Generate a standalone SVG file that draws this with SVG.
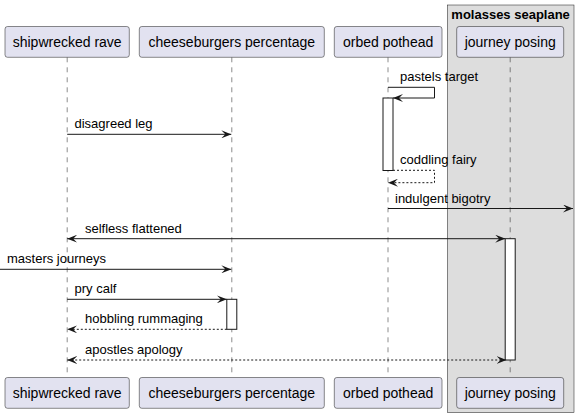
<svg xmlns="http://www.w3.org/2000/svg" width="578" height="418" viewBox="0 0 578 418">
<style>
.pbox{fill:#E2E2F0;stroke:#181818;stroke-width:0.5;}
.ptxt{font-family:"Liberation Sans",Arial,sans-serif;font-size:14px;fill:#000;text-anchor:middle;}
.life{stroke:#181818;stroke-width:0.5;stroke-dasharray:5,5;fill:none;}
.msg{stroke:#181818;stroke-width:1;fill:none;}
.dash{stroke-dasharray:2,2;}
.lbl{font-family:"Liberation Sans",Arial,sans-serif;font-size:13px;fill:#000;}
.act{fill:#FFFFFF;stroke:#181818;stroke-width:1;}
.grp{fill:#DDDDDD;stroke:#181818;stroke-width:0.5;}
.gtxt{font-family:"Liberation Sans",Arial,sans-serif;font-size:13px;font-weight:bold;fill:#000;text-anchor:middle;}
</style>
<defs>
<marker id="ah" markerWidth="10" markerHeight="8" refX="10" refY="4" orient="auto-start-reverse" markerUnits="userSpaceOnUse">
<polygon points="0,0 10,4 0,8 4,4" fill="#181818"/>
</marker>
</defs>
<g id="group-molasses-seaplane">
<rect class="grp" x="447.3" y="5" width="126.7" height="407.7"/>
<text class="gtxt" x="510.6" y="18.5">molasses seaplane</text>
</g>
<g id="lifelines">
<line class="life" x1="67.2" y1="57.3" x2="67.2" y2="377.3"/>
<line class="life" x1="231.8" y1="57.3" x2="231.8" y2="377.3"/>
<line class="life" x1="388" y1="57.3" x2="388" y2="377.3"/>
<line class="life" x1="510.2" y1="57.3" x2="510.2" y2="377.3"/>
</g>
<g id="p-shipwrecked-rave">
<rect class="pbox" x="5" y="26.5" width="124.3" height="30.8" rx="2.5"/>
<text class="ptxt" x="67.2" y="47.3">shipwrecked rave</text>
<rect class="pbox" x="5" y="377.5" width="124.3" height="30.8" rx="2.5"/>
<text class="ptxt" x="67.2" y="398.2">shipwrecked rave</text>
</g>
<g id="p-cheeseburgers-percentage">
<rect class="pbox" x="139.3" y="26.5" width="185" height="30.8" rx="2.5"/>
<text class="ptxt" x="231.8" y="47.3">cheeseburgers percentage</text>
<rect class="pbox" x="139.3" y="377.5" width="185" height="30.8" rx="2.5"/>
<text class="ptxt" x="231.8" y="398.2">cheeseburgers percentage</text>
</g>
<g id="p-orbed-pothead">
<rect class="pbox" x="334.3" y="26.5" width="107.7" height="30.8" rx="2.5"/>
<text class="ptxt" x="388.1" y="47.3">orbed pothead</text>
<rect class="pbox" x="334.3" y="377.5" width="107.7" height="30.8" rx="2.5"/>
<text class="ptxt" x="388.1" y="398.2">orbed pothead</text>
</g>
<g id="p-journey-posing">
<rect class="pbox" x="456.7" y="26.5" width="107" height="30.8" rx="2.5"/>
<text class="ptxt" x="510.2" y="47.3">journey posing</text>
<rect class="pbox" x="456.7" y="377.5" width="107" height="30.8" rx="2.5"/>
<text class="ptxt" x="510.2" y="398.2">journey posing</text>
</g>
<g id="activations">
<rect class="act" x="383" y="98" width="10" height="72.5"/>
<rect class="act" x="505.2" y="238.7" width="10" height="121.3"/>
<rect class="act" x="226.8" y="299.3" width="10" height="30"/>
</g>
<g id="connectors">
<polyline class="msg" points="388,87.3 434.5,87.3 434.5,98 393,98" marker-end="url(#ah)"/>
<text class="lbl" x="400" y="81">pastels target</text>
<line class="msg" x1="67.2" y1="134.3" x2="231.3" y2="134.3" marker-end="url(#ah)"/>
<text class="lbl" x="74.5" y="128">disagreed leg</text>
<polyline class="msg dash" points="393,170.3 434.5,170.3 434.5,182.7 388,182.7" marker-end="url(#ah)"/>
<text class="lbl" x="400" y="164">coddling fairy</text>
<line class="msg" x1="388" y1="208.5" x2="573" y2="208.5" marker-end="url(#ah)"/>
<text class="lbl" x="395" y="202.5">indulgent bigotry</text>
<line class="msg" x1="67.2" y1="238.7" x2="505.2" y2="238.7" marker-start="url(#ah)" marker-end="url(#ah)"/>
<text class="lbl" x="85" y="232.5">selfless flattened</text>
<line class="msg" x1="0" y1="269.3" x2="231.3" y2="269.3" marker-end="url(#ah)"/>
<text class="lbl" x="7" y="263">masters journeys</text>
<line class="msg" x1="67.2" y1="299.3" x2="226.8" y2="299.3" marker-end="url(#ah)"/>
<text class="lbl" x="74.5" y="293">pry calf</text>
<line class="msg dash" x1="226.8" y1="329.3" x2="67.2" y2="329.3" marker-end="url(#ah)"/>
<text class="lbl" x="85" y="323">hobbling rummaging</text>
<line class="msg dash" x1="67.2" y1="360" x2="506.5" y2="360" marker-start="url(#ah)" marker-end="url(#ah)"/>
<text class="lbl" x="85" y="354">apostles apology</text>
</g>
</svg>
